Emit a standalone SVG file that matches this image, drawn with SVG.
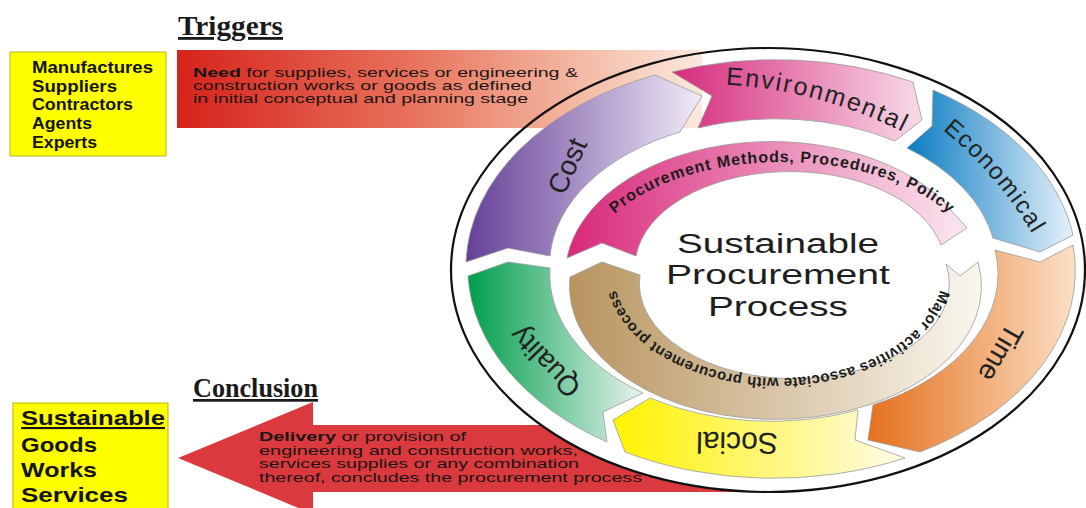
<svg xmlns="http://www.w3.org/2000/svg" width="1086" height="508" viewBox="0 0 1086 508">
  <defs>
    <linearGradient id="gNeed" x1="0" y1="0" x2="1" y2="0">
      <stop offset="0" stop-color="#d6231c"/>
      <stop offset="0.45" stop-color="#e8735c"/>
      <stop offset="0.75" stop-color="#f3b6a0"/>
      <stop offset="1" stop-color="#fbe8df"/>
    </linearGradient>
    <linearGradient id="gCost" x1="0" y1="0" x2="1" y2="0">
      <stop offset="0" stop-color="#653f98"/>
      <stop offset="1" stop-color="#f1ecf7"/>
    </linearGradient>
    <linearGradient id="gEnv" x1="0" y1="0" x2="1" y2="0">
      <stop offset="0" stop-color="#d62a7c"/>
      <stop offset="1" stop-color="#f8dbe8"/>
    </linearGradient>
    <linearGradient id="gEco" x1="0" y1="0" x2="1" y2="0">
      <stop offset="0" stop-color="#0a7cc2"/>
      <stop offset="1" stop-color="#e6f1fa"/>
    </linearGradient>
    <linearGradient id="gTime" x1="0" y1="0" x2="1" y2="0">
      <stop offset="0" stop-color="#e5701c"/>
      <stop offset="1" stop-color="#fbe0c6"/>
    </linearGradient>
    <linearGradient id="gSocial" x1="0" y1="0" x2="1" y2="0">
      <stop offset="0" stop-color="#fff200"/>
      <stop offset="1" stop-color="#fffbe8"/>
    </linearGradient>
    <linearGradient id="gQuality" x1="0" y1="0" x2="1" y2="0">
      <stop offset="0" stop-color="#009e4c"/>
      <stop offset="1" stop-color="#e8f3ee"/>
    </linearGradient>
    <linearGradient id="gMethods" x1="0" y1="0" x2="1" y2="0">
      <stop offset="0" stop-color="#d8287a"/>
      <stop offset="1" stop-color="#fbe7f1"/>
    </linearGradient>
    <linearGradient id="gActivities" x1="0" y1="0" x2="1" y2="0">
      <stop offset="0" stop-color="#b8945f"/>
      <stop offset="1" stop-color="#faf7ef"/>
    </linearGradient>
    <!-- baselines for curved labels -->
    <path id="envPath" d="M 710 84 A 450 450 0 0 1 918 140" fill="none"/>
    <path id="ecoPath" d="M 938 126 A 400 400 0 0 1 1036 240" fill="none"/>
    <path id="methodsPath" d="M 588 252.9 A 197 110 0 0 1 976 252.9" fill="none"/>
    <path id="activitiesPath" d="M 940.5 251.25 A 165 108 0 1 1 615.5 251.25" fill="none"/>
  </defs>
  <style>
    .head { font-family: "Liberation Serif", "Times New Roman", serif; font-weight: bold; fill: #1a1a1a; text-decoration: underline; }
    .box { fill: #ffff00; stroke: #bdb300; stroke-width: 1; }
    .boxtxt { font-family: "Liberation Sans", Arial, sans-serif; font-weight: bold; fill: #141414; }
    .flowtxt { font-family: "Liberation Sans", Arial, sans-serif; fill: #1c1414; }
    .seg { stroke: #9a9a9a; stroke-width: 0.8; stroke-linejoin: round; }
    .lbl { font-family: "Liberation Sans", Arial, sans-serif; fill: #222; }
    .inner { font-family: "Liberation Sans", Arial, sans-serif; font-weight: bold; fill: #1c1c1c; }
    .center { font-family: "Liberation Sans", Arial, sans-serif; fill: #1e1e1e; }
  </style>

  <rect width="1086" height="508" fill="#ffffff"/>

  <!-- flow arrows into and out of the cycle -->
  <g id="connectors">
    <polygon id="delivery-arrow" points="178,458 313,402 313,425 770,425 770,492 313,492 313,514" fill="#da3a3e"/>
    <!-- cycle disc hides the arrow shaft behind the ring -->
    <ellipse cx="768" cy="270" rx="317" ry="222" fill="#ffffff"/>
    <rect id="need-arrow" x="177" y="50" width="525" height="78" fill="url(#gNeed)"/>
  </g>

  <g id="ring-outline">
    <ellipse cx="768" cy="270" rx="317" ry="222" fill="none" stroke="#111" stroke-width="2.2"/>
  </g>

  <!-- headings -->
  <g id="triggers-heading">
    <text class="head" x="178" y="35" font-size="28" textLength="105" lengthAdjust="spacingAndGlyphs">Triggers</text>
  </g>
  <g id="conclusion-heading">
    <text class="head" x="193" y="397" font-size="27" textLength="125" lengthAdjust="spacingAndGlyphs">Conclusion</text>
  </g>

  <!-- who raises the need -->
  <g id="suppliers-box">
    <rect class="box" x="10" y="52" width="156" height="104"/>
    <text class="boxtxt" font-size="16">
      <tspan x="32" y="73" textLength="121" lengthAdjust="spacingAndGlyphs">Manufactures</tspan>
      <tspan x="32" y="92" textLength="85" lengthAdjust="spacingAndGlyphs">Suppliers</tspan>
      <tspan x="32" y="110" textLength="101" lengthAdjust="spacingAndGlyphs">Contractors</tspan>
      <tspan x="32" y="129" textLength="60" lengthAdjust="spacingAndGlyphs">Agents</tspan>
      <tspan x="32" y="148" textLength="65" lengthAdjust="spacingAndGlyphs">Experts</tspan>
    </text>
  </g>

  <!-- what the process delivers -->
  <g id="outputs-box">
    <rect class="box" x="13" y="403" width="155" height="112"/>
    <text class="boxtxt" font-size="21">
      <tspan x="21" y="425" textLength="144" lengthAdjust="spacingAndGlyphs" text-decoration="underline">Sustainable</tspan>
      <tspan x="21" y="452" textLength="76" lengthAdjust="spacingAndGlyphs">Goods</tspan>
      <tspan x="21" y="477" textLength="76" lengthAdjust="spacingAndGlyphs">Works</tspan>
      <tspan x="21" y="502" textLength="107" lengthAdjust="spacingAndGlyphs">Services</tspan>
    </text>
  </g>

  <g id="need-text">
    <text class="flowtxt" font-size="13.5">
      <tspan x="193" y="77" textLength="385" lengthAdjust="spacingAndGlyphs"><tspan font-weight="bold">Need</tspan> for supplies, services or engineering &amp;</tspan>
      <tspan x="193" y="90" textLength="339" lengthAdjust="spacingAndGlyphs">construction works or goods as defined</tspan>
      <tspan x="193" y="103" textLength="335" lengthAdjust="spacingAndGlyphs">in initial conceptual and planning stage</tspan>
    </text>
  </g>

  <g id="delivery-text">
    <text class="flowtxt" font-size="13.5">
      <tspan x="259" y="441" textLength="207" lengthAdjust="spacingAndGlyphs"><tspan font-weight="bold">Delivery</tspan> or provision of</tspan>
      <tspan x="259" y="454.5" textLength="319" lengthAdjust="spacingAndGlyphs">engineering and construction works,</tspan>
      <tspan x="259" y="468" textLength="320" lengthAdjust="spacingAndGlyphs">services supplies or any combination</tspan>
      <tspan x="259" y="481.5" textLength="383" lengthAdjust="spacingAndGlyphs">thereof, concludes the procurement process</tspan>
    </text>
  </g>

  <!-- outer ring: six criteria, flowing clockwise -->
  <g id="seg-cost">
    <path class="seg" fill="url(#gCost)" d="M 466 262 A 305 208 0 0 1 655 75 L 702 96 L 680 132 A 224 146 0 0 0 550 256 L 508 248 Z"/>
    <text class="lbl" font-size="28" text-anchor="middle" dy="0.35em" transform="translate(567 166) rotate(-66)">Cost</text>
  </g>
  <g id="seg-environmental">
    <path class="seg" fill="url(#gEnv)" d="M 672 72 A 305 208 0 0 1 913 82 L 922 120 L 895 141 A 224 146 0 0 0 698 128 L 712 96 Z"/>
    <text class="lbl" font-size="25" letter-spacing="2"><textPath href="#envPath" startOffset="50%" text-anchor="middle">Environmental</textPath></text>
  </g>
  <g id="seg-economical">
    <path class="seg" fill="url(#gEco)" d="M 933 90 A 305 208 0 0 1 1073 235 L 1040 252 L 993 238 A 224 146 0 0 0 907 148 L 932 126 Z"/>
    <text class="lbl" font-size="24" letter-spacing="1.5"><textPath href="#ecoPath" startOffset="50%" text-anchor="middle">Economical</textPath></text>
  </g>
  <g id="seg-time">
    <path class="seg" fill="url(#gTime)" d="M 1073 245 A 305 208 0 0 1 920 452 L 868 440 L 873 405 A 224 146 0 0 0 995 250 L 1040 262 Z"/>
    <text class="lbl" font-size="28" text-anchor="middle" dy="0.35em" transform="translate(1001 353) rotate(120)">Time</text>
  </g>
  <g id="seg-social">
    <path class="seg" fill="url(#gSocial)" d="M 905 458 A 305 208 0 0 1 625 452 L 613 420 L 650 398 A 224 146 0 0 0 858 410 L 855 440 Z"/>
    <text class="lbl" font-size="30" text-anchor="middle" dy="0.35em" transform="translate(737 443) rotate(181)">Social</text>
  </g>
  <g id="seg-quality">
    <path class="seg" fill="url(#gQuality)" d="M 607 442 A 305 208 0 0 1 468 276 L 508 262 L 550 268 A 224 146 0 0 0 643 393 L 603 412 Z"/>
    <text class="lbl" font-size="28" text-anchor="middle" dy="0.35em" transform="translate(545 362) rotate(226)">Quality</text>
  </g>

  <!-- inner ring -->
  <g id="inner-methods">
    <path class="seg" fill="url(#gMethods)" d="M 567 258 A 206 133 0 0 1 942 200 L 967 228 L 941 245 A 155 95 0 0 0 636 256 L 602 243 Z"/>
    <text class="inner" font-size="16" letter-spacing="0.9"><textPath href="#methodsPath" startOffset="50%" text-anchor="middle">Procurement Methods, Procedures, Policy</textPath></text>
  </g>
  <g id="inner-activities">
    <path class="seg" fill="url(#gActivities)" d="M 978 262 A 206 133 0 1 1 570 277 L 602 262 L 640 275 A 155 95 0 1 0 946 264 L 960 276 Z"/>
    <text class="inner" font-size="15" letter-spacing="0.4"><textPath href="#activitiesPath" startOffset="50%" text-anchor="middle">Major activities associate with procurement process</textPath></text>
  </g>

  <g id="center-label">
    <text class="center" font-size="27">
      <tspan x="677" y="253" textLength="202" lengthAdjust="spacingAndGlyphs">Sustainable</tspan>
      <tspan x="666" y="284" textLength="224" lengthAdjust="spacingAndGlyphs">Procurement</tspan>
      <tspan x="708" y="316" textLength="140" lengthAdjust="spacingAndGlyphs">Process</tspan>
    </text>
  </g>
</svg>
